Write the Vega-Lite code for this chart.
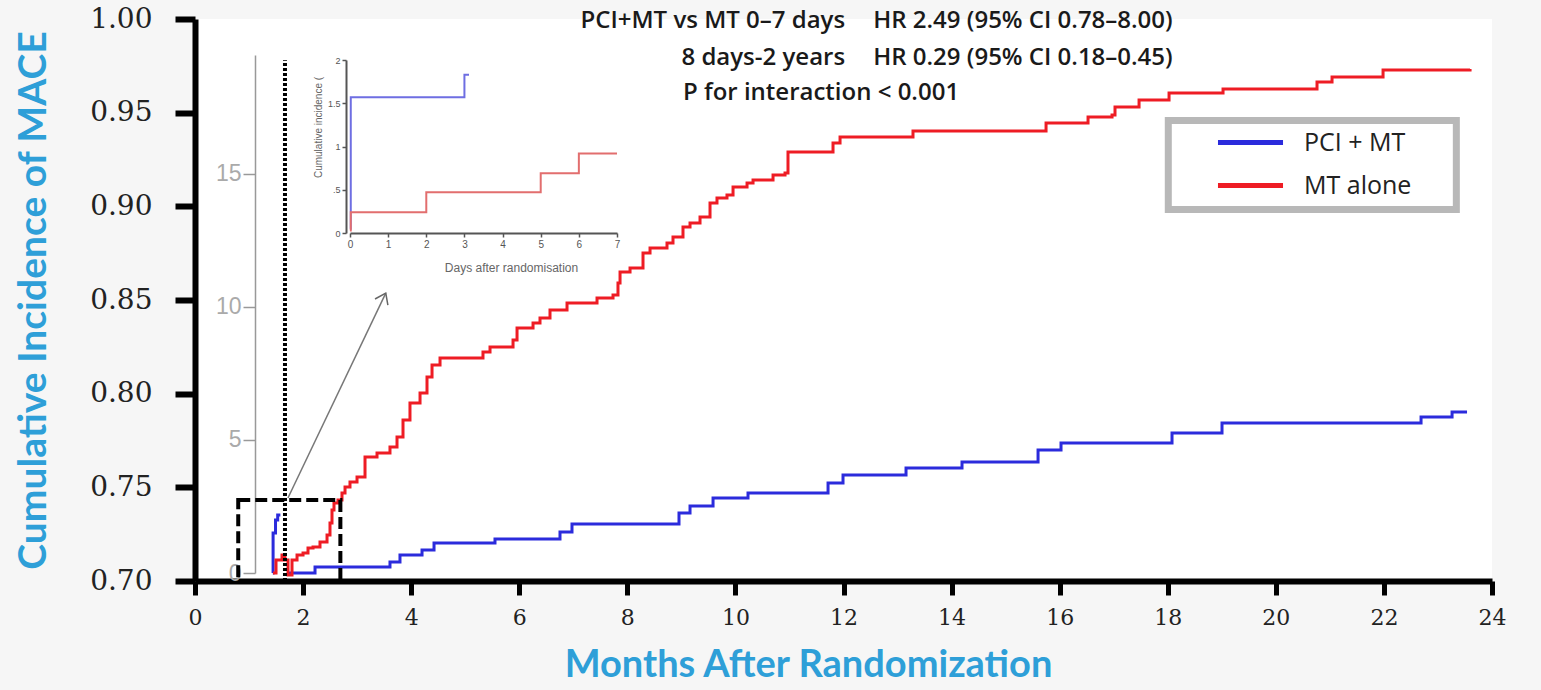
{
  "$schema": "https://vega.github.io/schema/vega-lite/v6.json",
  "width": 1297,
  "height": 562,
  "autosize": {"type": "none"},
  "padding": {"left": 195, "top": 19, "right": 49, "bottom": 109},
  "background": "#f6f6f6",
  "config": {"view": {"fill": "white", "stroke": null}, "axis": {"grid": false}},
  "data": {"values": [{}]},
  "datasets": {
    "km": [
      {"series": "PCI + MT", "seg": "a", "month": 1.44, "inc": 0.7043},
      {"series": "PCI + MT", "seg": "a", "month": 1.445, "inc": 0.7256},
      {"series": "PCI + MT", "seg": "a", "month": 1.49, "inc": 0.7326},
      {"series": "PCI + MT", "seg": "a", "month": 1.53, "inc": 0.7352},
      {"series": "PCI + MT", "seg": "a", "month": 1.58, "inc": 0.7352},
      {"series": "PCI + MT", "seg": "b", "month": 1.702, "inc": 0.7043},
      {"series": "PCI + MT", "seg": "b", "month": 2.221, "inc": 0.7075},
      {"series": "PCI + MT", "seg": "b", "month": 3.608, "inc": 0.7101},
      {"series": "PCI + MT", "seg": "b", "month": 3.793, "inc": 0.7139},
      {"series": "PCI + MT", "seg": "b", "month": 4.201, "inc": 0.7165},
      {"series": "PCI + MT", "seg": "b", "month": 4.423, "inc": 0.7203},
      {"series": "PCI + MT", "seg": "b", "month": 5.551, "inc": 0.7224},
      {"series": "PCI + MT", "seg": "b", "month": 6.754, "inc": 0.7262},
      {"series": "PCI + MT", "seg": "b", "month": 6.976, "inc": 0.7304},
      {"series": "PCI + MT", "seg": "b", "month": 8.956, "inc": 0.7363},
      {"series": "PCI + MT", "seg": "b", "month": 9.16, "inc": 0.74},
      {"series": "PCI + MT", "seg": "b", "month": 9.586, "inc": 0.7443},
      {"series": "PCI + MT", "seg": "b", "month": 10.233, "inc": 0.747},
      {"series": "PCI + MT", "seg": "b", "month": 11.714, "inc": 0.7523},
      {"series": "PCI + MT", "seg": "b", "month": 11.991, "inc": 0.7566},
      {"series": "PCI + MT", "seg": "b", "month": 13.157, "inc": 0.7603},
      {"series": "PCI + MT", "seg": "b", "month": 14.193, "inc": 0.7635},
      {"series": "PCI + MT", "seg": "b", "month": 15.6, "inc": 0.7699},
      {"series": "PCI + MT", "seg": "b", "month": 16.025, "inc": 0.7737},
      {"series": "PCI + MT", "seg": "b", "month": 18.079, "inc": 0.779},
      {"series": "PCI + MT", "seg": "b", "month": 19.004, "inc": 0.7843},
      {"series": "PCI + MT", "seg": "b", "month": 22.687, "inc": 0.7875},
      {"series": "PCI + MT", "seg": "b", "month": 23.261, "inc": 0.7902},
      {"series": "PCI + MT", "seg": "b", "month": 23.538, "inc": 0.7902},
      {"series": "MT alone", "seg": "c", "month": 1.443, "inc": 0.7043},
      {"series": "MT alone", "seg": "c", "month": 1.499, "inc": 0.7112},
      {"series": "MT alone", "seg": "c", "month": 1.61, "inc": 0.7139},
      {"series": "MT alone", "seg": "c", "month": 1.665, "inc": 0.7112},
      {"series": "MT alone", "seg": "c", "month": 1.721, "inc": 0.7032},
      {"series": "MT alone", "seg": "c", "month": 1.795, "inc": 0.7112},
      {"series": "MT alone", "seg": "c", "month": 1.888, "inc": 0.7139},
      {"series": "MT alone", "seg": "c", "month": 1.999, "inc": 0.7149},
      {"series": "MT alone", "seg": "c", "month": 2.091, "inc": 0.7176},
      {"series": "MT alone", "seg": "c", "month": 2.184, "inc": 0.7181},
      {"series": "MT alone", "seg": "c", "month": 2.313, "inc": 0.7208},
      {"series": "MT alone", "seg": "c", "month": 2.443, "inc": 0.7246},
      {"series": "MT alone", "seg": "c", "month": 2.498, "inc": 0.731},
      {"series": "MT alone", "seg": "c", "month": 2.535, "inc": 0.7379},
      {"series": "MT alone", "seg": "c", "month": 2.572, "inc": 0.7416},
      {"series": "MT alone", "seg": "c", "month": 2.646, "inc": 0.7432},
      {"series": "MT alone", "seg": "c", "month": 2.72, "inc": 0.747},
      {"series": "MT alone", "seg": "c", "month": 2.776, "inc": 0.7502},
      {"series": "MT alone", "seg": "c", "month": 2.868, "inc": 0.7528},
      {"series": "MT alone", "seg": "c", "month": 2.998, "inc": 0.7555},
      {"series": "MT alone", "seg": "c", "month": 3.146, "inc": 0.7662},
      {"series": "MT alone", "seg": "c", "month": 3.368, "inc": 0.7683},
      {"series": "MT alone", "seg": "c", "month": 3.608, "inc": 0.7715},
      {"series": "MT alone", "seg": "c", "month": 3.738, "inc": 0.7769},
      {"series": "MT alone", "seg": "c", "month": 3.849, "inc": 0.7859},
      {"series": "MT alone", "seg": "c", "month": 3.978, "inc": 0.795},
      {"series": "MT alone", "seg": "c", "month": 4.164, "inc": 0.8004},
      {"series": "MT alone", "seg": "c", "month": 4.293, "inc": 0.8089},
      {"series": "MT alone", "seg": "c", "month": 4.386, "inc": 0.8153},
      {"series": "MT alone", "seg": "c", "month": 4.534, "inc": 0.819},
      {"series": "MT alone", "seg": "c", "month": 5.329, "inc": 0.8222},
      {"series": "MT alone", "seg": "c", "month": 5.459, "inc": 0.8249},
      {"series": "MT alone", "seg": "c", "month": 5.885, "inc": 0.8286},
      {"series": "MT alone", "seg": "c", "month": 5.959, "inc": 0.835},
      {"series": "MT alone", "seg": "c", "month": 6.255, "inc": 0.8377},
      {"series": "MT alone", "seg": "c", "month": 6.384, "inc": 0.8404},
      {"series": "MT alone", "seg": "c", "month": 6.569, "inc": 0.8447},
      {"series": "MT alone", "seg": "c", "month": 6.884, "inc": 0.8484},
      {"series": "MT alone", "seg": "c", "month": 7.439, "inc": 0.8511},
      {"series": "MT alone", "seg": "c", "month": 7.735, "inc": 0.8527},
      {"series": "MT alone", "seg": "c", "month": 7.827, "inc": 0.8591},
      {"series": "MT alone", "seg": "c", "month": 7.865, "inc": 0.8649},
      {"series": "MT alone", "seg": "c", "month": 8.05, "inc": 0.8671},
      {"series": "MT alone", "seg": "c", "month": 8.29, "inc": 0.8751},
      {"series": "MT alone", "seg": "c", "month": 8.42, "inc": 0.8778},
      {"series": "MT alone", "seg": "c", "month": 8.734, "inc": 0.8804},
      {"series": "MT alone", "seg": "c", "month": 8.845, "inc": 0.8836},
      {"series": "MT alone", "seg": "c", "month": 9.03, "inc": 0.889},
      {"series": "MT alone", "seg": "c", "month": 9.16, "inc": 0.8911},
      {"series": "MT alone", "seg": "c", "month": 9.345, "inc": 0.8943},
      {"series": "MT alone", "seg": "c", "month": 9.53, "inc": 0.9018},
      {"series": "MT alone", "seg": "c", "month": 9.659, "inc": 0.9044},
      {"series": "MT alone", "seg": "c", "month": 9.844, "inc": 0.906},
      {"series": "MT alone", "seg": "c", "month": 9.956, "inc": 0.9103},
      {"series": "MT alone", "seg": "c", "month": 10.215, "inc": 0.9125},
      {"series": "MT alone", "seg": "c", "month": 10.326, "inc": 0.9141},
      {"series": "MT alone", "seg": "c", "month": 10.696, "inc": 0.9167},
      {"series": "MT alone", "seg": "c", "month": 10.918, "inc": 0.9178},
      {"series": "MT alone", "seg": "c", "month": 10.973, "inc": 0.929},
      {"series": "MT alone", "seg": "c", "month": 11.806, "inc": 0.9338},
      {"series": "MT alone", "seg": "c", "month": 11.936, "inc": 0.937},
      {"series": "MT alone", "seg": "c", "month": 13.286, "inc": 0.9402},
      {"series": "MT alone", "seg": "c", "month": 15.748, "inc": 0.9445},
      {"series": "MT alone", "seg": "c", "month": 16.525, "inc": 0.9477},
      {"series": "MT alone", "seg": "c", "month": 16.969, "inc": 0.9488},
      {"series": "MT alone", "seg": "c", "month": 17.024, "inc": 0.953},
      {"series": "MT alone", "seg": "c", "month": 17.469, "inc": 0.9568},
      {"series": "MT alone", "seg": "c", "month": 18.024, "inc": 0.9605},
      {"series": "MT alone", "seg": "c", "month": 19.023, "inc": 0.9626},
      {"series": "MT alone", "seg": "c", "month": 20.762, "inc": 0.9664},
      {"series": "MT alone", "seg": "c", "month": 21.04, "inc": 0.969},
      {"series": "MT alone", "seg": "c", "month": 21.984, "inc": 0.9728},
      {"series": "MT alone", "seg": "c", "month": 23.594, "inc": 0.9733}
    ],
    "inset": [
      {"arm": "PCI + MT", "day": 0, "cum": 0.05},
      {"arm": "PCI + MT", "day": 0.02, "cum": 1.57},
      {"arm": "PCI + MT", "day": 3.0, "cum": 1.83},
      {"arm": "PCI + MT", "day": 3.12, "cum": 1.83},
      {"arm": "MT alone", "day": 0, "cum": 0.03},
      {"arm": "MT alone", "day": 0.02, "cum": 0.24},
      {"arm": "MT alone", "day": 2, "cum": 0.47},
      {"arm": "MT alone", "day": 5, "cum": 0.69},
      {"arm": "MT alone", "day": 6, "cum": 0.92},
      {"arm": "MT alone", "day": 7, "cum": 0.92}
    ]
  },
  "layer": [
    {
      "layer": [
        {
          "data": {"name": "km"},
          "mark": {"type": "line", "interpolate": "step-after", "strokeWidth": 3},
          "encoding": {
            "x": {
              "field": "month", "type": "quantitative",
              "scale": {"domain": [0, 24], "nice": false, "zero": false},
              "axis": {
                "values": [0, 2, 4, 6, 8, 10, 12, 14, 16, 18, 20, 22, 24],
                "title": "Months After Randomization",
                "domainColor": "black", "domainWidth": 6,
                "tickColor": "black", "tickWidth": 5, "tickSize": 14,
                "labelFont": "DejaVu Serif", "labelFontSize": 22, "labelColor": "#222",
                "labelPadding": 12, "labelFlush": false, "labelOverlap": false,
                "titleFont": "Lato", "titleFontSize": 38, "titleFontWeight": "bold",
                "titleColor": "#2e9fd8", "titleX": 613, "titleY": 84, "titleBaseline": "middle"
              }
            },
            "y": {
              "field": "inc", "type": "quantitative",
              "scale": {"domain": [0.7, 1.0], "nice": false, "zero": false},
              "axis": {
                "values": [0.7, 0.75, 0.8, 0.85, 0.9, 0.95, 1.0],
                "format": ".2f",
                "title": "Cumulative Incidence of MACE",
                "domainColor": "black", "domainWidth": 6,
                "tickColor": "black", "tickWidth": 6, "tickSize": 20,
                "labelFont": "DejaVu Serif", "labelFontSize": 28, "labelColor": "#222",
                "labelPadding": 23, "labelFlush": false, "labelOverlap": false,
                "titleFont": "Lato", "titleFontSize": 39, "titleFontWeight": "bold",
                "titleColor": "#2e9fd8", "titleX": -162, "titleY": 281, "titleBaseline": "middle"
              }
            },
            "color": {
              "field": "series", "type": "nominal",
              "scale": {"domain": ["PCI + MT", "MT alone"], "range": ["#2b2bdc", "#ee1c24"]},
              "legend": {
                "orient": "none", "legendX": 1012, "legendY": 110, "title": null,
                "symbolType": "M-3,0L3,0", "symbolSize": 470, "symbolStrokeWidth": 5,
                "labelFont": "Open Sans", "labelFontSize": 25, "labelColor": "#222",
                "rowPadding": 16, "labelOffset": 40, "symbolOffset": 30,
                "encode": {"symbols": {"update": {"stroke": {"signal": "datum.value === 'PCI + MT' ? '#1f6fb5' : '#e5103c'"}}}}
              }
            },
            "detail": {"field": "seg"}
          }
        },
        {
          "mark": {"type": "rule", "stroke": "black", "strokeWidth": 4, "strokeDash": [3, 2]},
          "encoding": {"x": {"datum": 1.665}, "y": {"datum": 0.7}, "y2": {"datum": 0.978}}
        },
        {
          "mark": {"type": "rect", "filled": false, "stroke": "black", "strokeWidth": 4, "strokeDash": [12, 5]},
          "encoding": {"x": {"datum": 0.8}, "x2": {"datum": 2.69}, "y": {"datum": 0.7}, "y2": {"datum": 0.7432}}
        },
        {
          "mark": {"type": "rule", "stroke": "#777", "strokeWidth": 1.5},
          "encoding": {"x": {"datum": 1.72}, "y": {"datum": 0.7443}, "x2": {"datum": 3.53}, "y2": {"datum": 0.8537}}
        },
        {
          "mark": {"type": "point", "shape": "M-0.5,0.7L0,0L0.5,0.7", "size": 816, "angle": 25.6, "filled": false, "stroke": "#666", "strokeWidth": 1.5, "opacity": 1},
          "encoding": {"x": {"datum": 3.53}, "y": {"datum": 0.8537}}
        },
        {
          "mark": {"type": "rect", "fill": "white", "stroke": "#b8b8b8", "strokeWidth": 7},
          "encoding": {"x": {"datum": 18.01}, "x2": {"datum": 23.34}, "y": {"datum": 0.8983}, "y2": {"datum": 0.9458}}
        },
        {
          "mark": {"type": "text", "align": "right", "baseline": "alphabetic", "font": "Open Sans", "fontSize": 24, "fontWeight": 600, "color": "#1a1a1a"},
          "encoding": {"x": {"datum": 12.03}, "y": {"datum": 0.9952}, "text": {"value": "PCI+MT vs MT  0–7 days"}}
        },
        {
          "mark": {"type": "text", "align": "left", "baseline": "alphabetic", "font": "Open Sans", "fontSize": 24, "fontWeight": 600, "color": "#1a1a1a"},
          "encoding": {"x": {"datum": 12.55}, "y": {"datum": 0.9952}, "text": {"value": "HR 2.49 (95% CI 0.78–8.00)"}}
        },
        {
          "mark": {"type": "text", "align": "right", "baseline": "alphabetic", "font": "Open Sans", "fontSize": 24, "fontWeight": 600, "color": "#1a1a1a"},
          "encoding": {"x": {"datum": 12.03}, "y": {"datum": 0.9754}, "text": {"value": "8 days-2 years"}}
        },
        {
          "mark": {"type": "text", "align": "left", "baseline": "alphabetic", "font": "Open Sans", "fontSize": 24, "fontWeight": 600, "color": "#1a1a1a"},
          "encoding": {"x": {"datum": 12.55}, "y": {"datum": 0.9754}, "text": {"value": "HR 0.29 (95% CI 0.18–0.45)"}}
        },
        {
          "mark": {"type": "text", "align": "left", "baseline": "alphabetic", "font": "Open Sans", "fontSize": 24, "fontWeight": 600, "color": "#1a1a1a"},
          "encoding": {"x": {"datum": 9.03}, "y": {"datum": 0.9568}, "text": {"value": "P for interaction < 0.001"}}
        }
      ]
    },
    {
      "data": {"name": "inset"},
      "mark": {"type": "line", "interpolate": "step-after", "strokeWidth": 2},
      "encoding": {
        "x": {
          "field": "day", "type": "quantitative",
          "scale": {"domain": [0, 7], "range": [155, 422], "nice": false, "zero": false},
          "axis": {
            "orient": "bottom", "offset": -348, "values": [0, 1, 2, 3, 4, 5, 6, 7],
            "domainColor": "#555", "domainWidth": 2, "tickColor": "#555", "tickSize": 4, "tickWidth": 1.5,
            "labelFont": "Liberation Sans", "labelFontSize": 10, "labelColor": "#555", "labelPadding": 2, "labelFlush": false,
            "title": "Days after randomisation", "titleFont": "Liberation Sans", "titleFontSize": 12,
            "titleFontWeight": "normal", "titleColor": "#666", "titleX": 316, "titleY": 34, "titleBaseline": "middle"
          }
        },
        "y": {
          "field": "cum", "type": "quantitative",
          "scale": {"domain": [0, 2], "range": [214, 41], "nice": false},
          "axis": {
            "orient": "left", "offset": -151, "values": [0, 0.5, 1, 1.5, 2],
            "labelExpr": "datum.value == 0.5 ? '.5' : toString(datum.value)",
            "domainColor": "#555", "domainWidth": 2, "tickColor": "#555", "tickSize": 4, "tickWidth": 1.5,
            "labelFont": "Liberation Sans", "labelFontSize": 9, "labelColor": "#555", "labelPadding": 2, "labelFlush": false,
            "title": "Cumulative incidence (", "titleFont": "Liberation Sans", "titleFontSize": 10,
            "titleFontWeight": "normal", "titleColor": "#666", "titleX": -28, "titleY": 108, "titleBaseline": "middle"
          }
        },
        "color": {
          "field": "arm", "type": "nominal",
          "scale": {"domain": ["PCI + MT", "MT alone"], "range": ["#6e6ee2", "#e26e6e"]},
          "legend": null
        }
      }
    },
    {
      "mark": {"type": "point", "opacity": 0},
      "encoding": {
        "y": {
          "datum": 0, "type": "quantitative",
          "scale": {"domain": [0, 19.47], "range": [554, 36], "nice": false},
          "axis": {
            "orient": "left", "offset": -60, "values": [0, 5, 10, 15],
            "domainColor": "#999", "domainWidth": 1.5, "tickColor": "#999", "tickSize": 12, "tickWidth": 1.5,
            "labelFont": "Liberation Sans", "labelFontSize": 23, "labelColor": "#aaa", "labelPadding": 2,
            "labelFlush": false, "title": null
          }
        }
      }
    }
  ],
  "resolve": {
    "scale": {"x": "independent", "y": "independent", "color": "independent"},
    "axis": {"x": "independent", "y": "independent"}
  }
}
